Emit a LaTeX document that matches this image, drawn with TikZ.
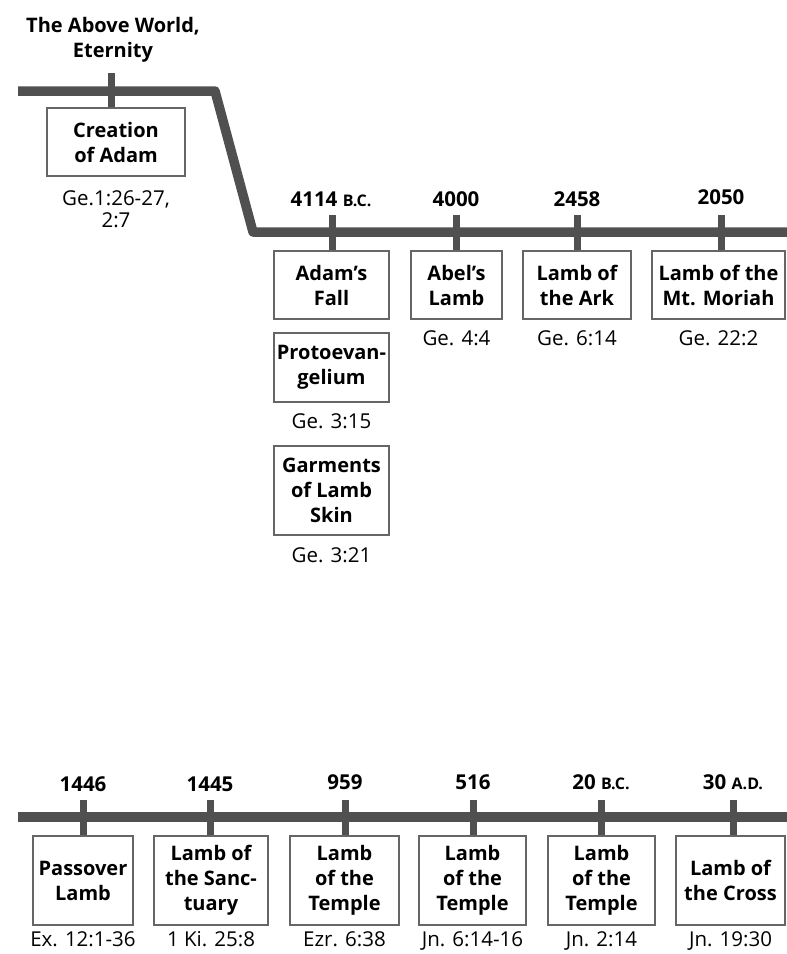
\documentclass[tikz,border=0pt]{standalone}
\usepackage{fontspec}
\setmainfont{Open Sans}
\definecolor{lineGray}{HTML}{505050}
\definecolor{boxGray}{HTML}{666666}
\begin{document}
\begin{tikzpicture}[x=1pt,y=-1pt,
  axis/.style={line width=9.5pt, draw=lineGray, line join=round},
  tick/.style={line width=7pt, draw=lineGray},
  eventbox/.style={draw=boxGray, line width=2.5pt, fill=white, align=center,
    font=\bfseries\fontsize{20}{25}\selectfont, inner sep=0pt},
  year/.style={anchor=base, inner sep=0pt, font=\bfseries\fontsize{20.5}{25}\selectfont},
  era/.style={font=\bfseries\fontsize{16}{18}\selectfont},
  ref/.style={anchor=base, inner sep=0pt, align=center, font=\fontsize{20.5}{22}\selectfont},
  title/.style={anchor=base, inner sep=0pt, align=center, font=\bfseries\fontsize{20}{25}\selectfont},
]
\useasboundingbox[fill=white] (0,0) rectangle (787,954);

% ---------- upper timeline ----------
\coordinate (a0) at (18,91);
\coordinate (a1) at (215,91);
\coordinate (a2) at (253,232);
\coordinate (a3) at (787,232);
\draw[axis] (a0) -- (a1) -- (a2) -- (a3);

\node[title] (above) at (113,57) {The Above World,\\Eternity};

% boxes of the upper row
\node[eventbox, minimum width=138pt, minimum height=68pt] (creation) at (116,142) {Creation\\of Adam};
\node[eventbox, minimum width=115pt, minimum height=68pt] (fall) at (331.5,285) {Adam’s\\Fall};
\node[eventbox, minimum width=115pt, minimum height=69pt] (proto) at (331.5,367.5) {Protoevan-\\gelium};
\node[eventbox, minimum width=115pt, minimum height=89pt] (garments) at (331.5,490.5) {Garments\\of Lamb\\Skin};
\node[eventbox, minimum width=91pt, minimum height=68pt] (abel) at (456.5,285) {Abel’s\\Lamb};
\node[eventbox, minimum width=108pt, minimum height=68pt] (ark) at (577,285) {Lamb of\\the Ark};
\node[eventbox, minimum width=133pt, minimum height=68pt] (moriah) at (718.5,285) {Lamb of the\\Mt. Moriah};

% ticks of the upper row
\coordinate (t0) at (111,73);
\coordinate (t1) at (332,215);
\coordinate (t2) at (456,215);
\coordinate (t3) at (577,215);
\coordinate (t4) at (721,215);
\draw[tick] (t0) -- (t0 |- creation.north);
\draw[tick] (t1) -- (t1 |- fall.north);
\draw[tick] (t2) -- (t2 |- abel.north);
\draw[tick] (t3) -- (t3 |- ark.north);
\draw[tick] (t4) -- (t4 |- moriah.north);

% years of the upper row
\node[year] (y1) at (331,206) {4114 {\fontsize{16}{18}\selectfont B.C.}};
\node[year] (y2) at (456,206) {4000};
\node[year] (y3) at (577,206) {2458};
\node[year] (y4) at (721,204) {2050};

% references of the upper row
\node[ref] (r0) at (116,227) {Ge.1:26-27,\\2:7};
\node[ref] (r1) at (456.5,345) {Ge. 4:4};
\node[ref] (r2) at (577,345) {Ge. 6:14};
\node[ref] (r3) at (718.5,345) {Ge. 22:2};
\node[ref] (r4) at (331.5,428) {Ge. 3:15};
\node[ref] (r5) at (331.5,562) {Ge. 3:21};

% ---------- lower timeline ----------
\coordinate (b0) at (18,817);
\coordinate (b1) at (787,817);
\draw[axis] (b0) -- (b1);

\node[eventbox, minimum width=100pt, minimum height=89pt] (passover) at (83,880.5) {Passover\\Lamb};
\node[eventbox, minimum width=114pt, minimum height=89pt] (sanct) at (211,880.5) {Lamb of\\the Sanc-\\tuary};
\node[eventbox, minimum width=109pt, minimum height=89pt] (templeA) at (344.5,880.5) {Lamb\\of the\\Temple};
\node[eventbox, minimum width=107pt, minimum height=89pt] (templeB) at (472.5,880.5) {Lamb\\of the\\Temple};
\node[eventbox, minimum width=107pt, minimum height=89pt] (templeC) at (601.5,880.5) {Lamb\\of the\\Temple};
\node[eventbox, minimum width=109pt, minimum height=89pt] (cross) at (730.5,880.5) {Lamb of\\the Cross};

\coordinate (s1) at (83,800);
\coordinate (s2) at (210,800);
\coordinate (s3) at (345,800);
\coordinate (s4) at (473,800);
\coordinate (s5) at (601,800);
\coordinate (s6) at (733,800);
\draw[tick] (s1) -- (s1 |- passover.north);
\draw[tick] (s2) -- (s2 |- sanct.north);
\draw[tick] (s3) -- (s3 |- templeA.north);
\draw[tick] (s4) -- (s4 |- templeB.north);
\draw[tick] (s5) -- (s5 |- templeC.north);
\draw[tick] (s6) -- (s6 |- cross.north);

\node[year] (z1) at (83,791) {1446};
\node[year] (z2) at (210,791) {1445};
\node[year] (z3) at (345,789) {959};
\node[year] (z4) at (473,789) {516};
\node[year] (z5) at (601,789) {20 {\fontsize{16}{18}\selectfont B.C.}};
\node[year] (z6) at (733,789) {30 {\fontsize{16}{18}\selectfont A.D.}};

\node[ref] (q1) at (83,946) {Ex. 12:1-36};
\node[ref] (q2) at (211,946) {1 Ki. 25:8};
\node[ref] (q3) at (344.5,946) {Ezr. 6:38};
\node[ref] (q4) at (472.5,946) {Jn. 6:14-16};
\node[ref] (q5) at (601.5,946) {Jn. 2:14};
\node[ref] (q6) at (730.5,946) {Jn. 19:30};
\end{tikzpicture}
\end{document}
